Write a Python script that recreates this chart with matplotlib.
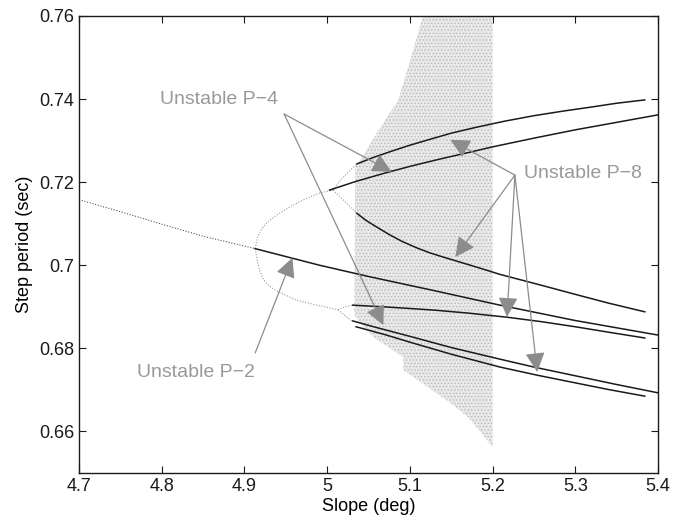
# coding=utf-8

import numpy as np
import matplotlib
matplotlib.use('Agg')
from matplotlib import pyplot as plt

plt.rcParams['font.family'] = ['Liberation Sans', 'DejaVu Sans']
plt.rcParams['hatch.linewidth'] = 0.35

# stable orbits (simulation, dotted)
p1_stable_s = [4.70, 4.75, 4.80, 4.85, 4.913]
p1_stable_T = [0.7158, 0.7129, 0.7099, 0.7070, 0.7040]

p2_up_s = [4.913, 4.916, 4.921, 4.927, 4.935, 4.943, 4.959, 4.975, 4.991, 5.007]
p2_up_T = [0.7040, 0.7068, 0.7088, 0.7102, 0.7115, 0.7126, 0.7145, 0.7161, 0.7174, 0.7181]
p2_lo_s = [4.913, 4.916, 4.919, 4.923, 4.930, 4.940, 4.963, 4.990, 5.013]
p2_lo_T = [0.7040, 0.7006, 0.6984, 0.6965, 0.6950, 0.6937, 0.6916, 0.6903, 0.6893]

p4_a_s = [5.007, 5.016, 5.028, 5.036]
p4_a_T = [0.7181, 0.7205, 0.7229, 0.7244]
p4_b_s = [5.007, 5.016, 5.028, 5.036]
p4_b_T = [0.7181, 0.7164, 0.7140, 0.7125]
p4_c_s = [5.013, 5.022, 5.031]
p4_c_T = [0.6893, 0.6900, 0.6904]
p4_d_s = [5.013, 5.022, 5.031]
p4_d_T = [0.6893, 0.6878, 0.6864]

# chaotic cloud outline
cloud_s = [5.116, 5.200, 5.200, 5.185, 5.170, 5.149, 5.092, 5.092, 5.056, 5.040,
           5.033, 5.034, 5.040, 5.060, 5.086, 5.098]
cloud_T = [0.7600, 0.7600, 0.6563, 0.6600, 0.6635, 0.6669, 0.6748, 0.6779, 0.6827, 0.6861,
           0.6880, 0.7240, 0.7253, 0.7318, 0.7398, 0.7477]

# unstable orbits (solid)
u_p1_s = [4.913, 4.991, 5.050, 5.127, 5.209, 5.300, 5.400]
u_p1_T = [0.7040, 0.7000, 0.6973, 0.6940, 0.6904, 0.6867, 0.6832]

u_p2a_s = [5.003, 5.035, 5.070, 5.100, 5.137, 5.170, 5.200, 5.250, 5.300, 5.350, 5.400]
u_p2a_T = [0.7181, 0.7202, 0.7222, 0.7238, 0.7256, 0.7271, 0.7285, 0.7306, 0.7326, 0.7344, 0.7362]
u_p2b_s = [5.031, 5.060, 5.100, 5.150, 5.209, 5.250, 5.300, 5.350, 5.400]
u_p2b_T = [0.6866, 0.6850, 0.6829, 0.6802, 0.6774, 0.6755, 0.6734, 0.6713, 0.6693]

u_p4a_s = [5.036, 5.058, 5.080, 5.100, 5.124, 5.150, 5.180, 5.215, 5.250, 5.285, 5.320, 5.350, 5.384]
u_p4a_T = [0.7244, 0.7261, 0.7276, 0.7289, 0.7303, 0.7318, 0.7332, 0.7347, 0.7360, 0.7371, 0.7381, 0.7390, 0.7398]
u_p4b_s = [5.036, 5.047, 5.060, 5.075, 5.090, 5.107, 5.124, 5.140, 5.160, 5.185, 5.209, 5.255, 5.300, 5.340, 5.384]
u_p4b_T = [0.7125, 0.7108, 0.7092, 0.7074, 0.7058, 0.7043, 0.7030, 0.7020, 0.7008, 0.6993, 0.6978, 0.6954, 0.6930, 0.6909, 0.6888]
u_p4c_s = [5.031, 5.050, 5.076, 5.100, 5.130, 5.170, 5.2175, 5.260, 5.300, 5.340, 5.384]
u_p4c_T = [0.6904, 0.6902, 0.6899, 0.6896, 0.6892, 0.6885, 0.6875, 0.6864, 0.6852, 0.6839, 0.6825]
u_p4d_s = [5.035, 5.070, 5.100, 5.150, 5.209, 5.255, 5.300, 5.340, 5.384]
u_p4d_T = [0.6852, 0.6833, 0.6815, 0.6786, 0.6755, 0.6735, 0.6717, 0.6701, 0.6685]

# annotations: label, label position, arrow start, arrow tips
labels = ['Unstable P\u22124', 'Unstable P\u22128', 'Unstable P\u22122']
label_pos = [(4.869, 0.7398), (5.309, 0.7222), (4.841, 0.6743)]
arrow_from = [(4.948, 0.7364), (5.227, 0.7217), (4.913, 0.6789)]
arrow_to = [[(5.078, 0.7225), (5.068, 0.6856)],
            [(5.149, 0.7302), (5.155, 0.7020), (5.2175, 0.6876), (5.254, 0.6743)],
            [(4.958, 0.7018)]]

xticks = [4.7, 4.8, 4.9, 5.0, 5.1, 5.2, 5.3, 5.4]
xticklabels = ['4.7', '4.8', '4.9', '5', '5.1', '5.2', '5.3', '5.4']
yticks = [0.66, 0.68, 0.70, 0.72, 0.74, 0.76]
yticklabels = ['0.66', '0.68', '0.7', '0.72', '0.74', '0.76']


def main():
    fig = plt.figure(figsize=(6.84, 5.19), dpi=100)
    ax = fig.add_axes([0.1155, 0.0886, 0.8465, 0.8806])

    # grainy stand-in for the dense cloud of simulated points
    ax.fill(cloud_s, cloud_T, facecolor='#f1f1f1', edgecolor='#d2d2d2',
            hatch='||||||||||', linewidth=0, zorder=1)
    ax.fill(cloud_s, cloud_T, facecolor='none', edgecolor='#a8a8a8',
            hatch='.....', linewidth=0, zorder=1)

    dot = (0, (1, 1.5))
    ax.plot(p1_stable_s, p1_stable_T, color='#555555', lw=0.8, ls=dot, zorder=2)
    for s, T in [(p2_up_s, p2_up_T), (p2_lo_s, p2_lo_T), (p4_a_s, p4_a_T),
                 (p4_b_s, p4_b_T), (p4_c_s, p4_c_T), (p4_d_s, p4_d_T)]:
        ax.plot(s, T, color='#9a9a9a', lw=0.8, ls=dot, zorder=2)

    for s, T in [(u_p1_s, u_p1_T), (u_p2a_s, u_p2a_T), (u_p2b_s, u_p2b_T),
                 (u_p4a_s, u_p4a_T), (u_p4b_s, u_p4b_T), (u_p4c_s, u_p4c_T),
                 (u_p4d_s, u_p4d_T)]:
        ax.plot(s, T, color='#1a1a1a', lw=1.1, zorder=3)

    for i in range(len(labels)):
        ax.text(label_pos[i][0], label_pos[i][1], labels[i], color='#999999',
                fontsize=14, ha='center', va='center', zorder=5)
        for tip in arrow_to[i]:
            ax.annotate('', xy=tip, xytext=arrow_from[i],
                        arrowprops=dict(arrowstyle='-|>,head_length=1.0,head_width=0.5',
                                        color='#8c8c8c', lw=0.9, mutation_scale=12,
                                        shrinkA=0, shrinkB=0), zorder=4)

    ax.set_xlim(4.7, 5.4)
    ax.set_ylim(0.65, 0.76)
    ax.set_xticks(xticks)
    ax.set_xticklabels(xticklabels)
    ax.set_yticks(yticks)
    ax.set_yticklabels(yticklabels)
    ax.tick_params(direction='in', top=True, right=True, length=5, width=0.8,
                   labelsize=13, colors='#1a1a1a')
    for sp in ax.spines.values():
        sp.set_linewidth(1.0)
        sp.set_color('#1a1a1a')
    ax.set_xlabel('Slope (deg)', fontsize=13, labelpad=2)
    ax.set_ylabel('Step period (sec)', fontsize=13, labelpad=4)

    fig.savefig('out.png', dpi=100)


if __name__ == '__main__':
    main()
